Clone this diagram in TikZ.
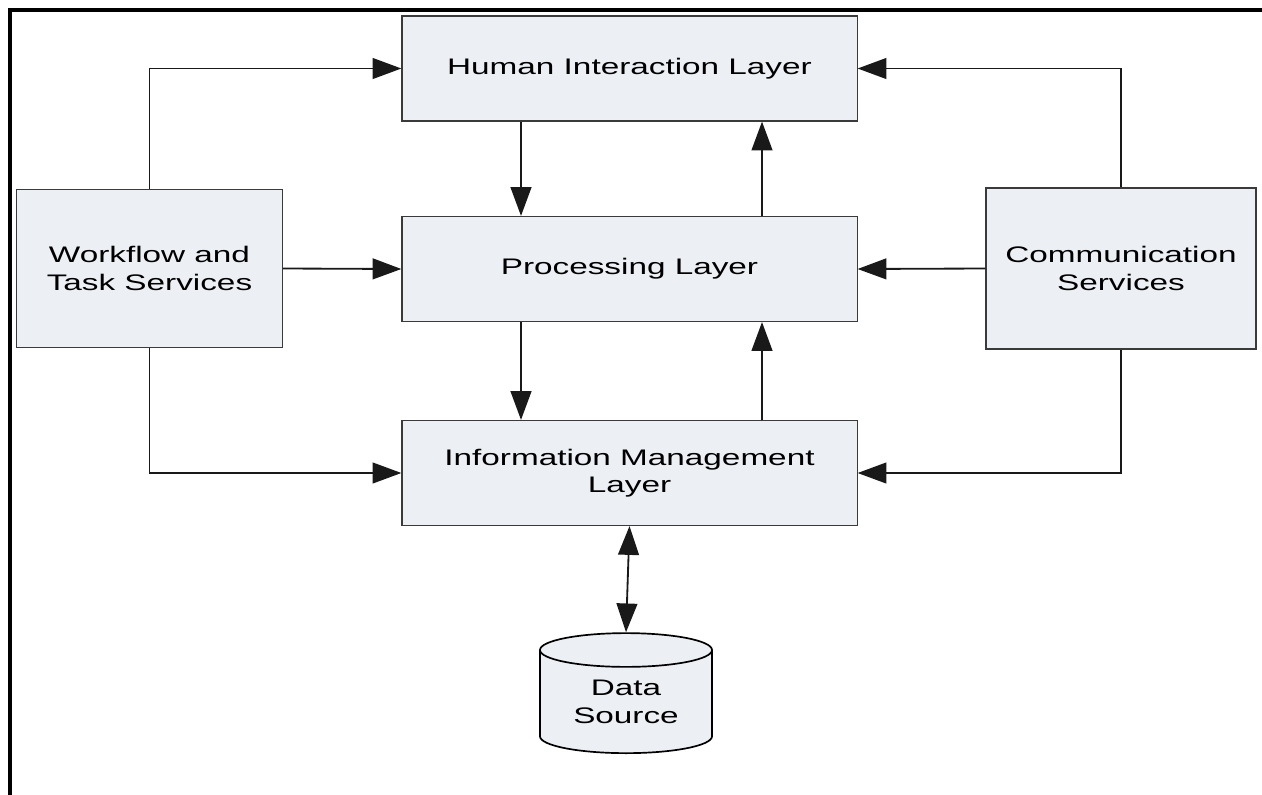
\documentclass[tikz,border=0pt]{standalone}
\usepackage{fontspec}
\setmainfont[FakeStretch=1.48]{Liberation Sans}
\usepackage{xcolor}
\usepackage{tikz}
\usetikzlibrary{
  shapes.geometric,
  arrows.meta,
  positioning
}
\definecolor{LayerFill}{RGB}{236, 239, 244}
\definecolor{EdgeGray}{RGB}{58, 58, 58}
\tikzset{
    layer/.style={rectangle, draw=EdgeGray, line width=0.8pt, fill=LayerFill,
        minimum width=11.375cm, minimum height=2.625cm, inner sep=0pt,
        align=center, font=\fontsize{16}{19.5}\selectfont},
    service/.style={layer, minimum width=6.65cm, minimum height=3.95cm},
    store/.style={cylinder, shape border rotate=90, aspect=0.32, draw=black,
        line width=1.2pt, fill=LayerFill, minimum width=4.3cm, minimum height=3cm,
        inner sep=0pt, align=center, font=\fontsize{16}{19.5}\selectfont},
    link/.style={line width=1.3pt, draw=black!90},
    >={Triangle[length=7.2mm, width=5.2mm]}
}

\begin{document}
\begin{tikzpicture}[x=0.025cm, y=-0.025cm]
    \useasboundingbox (0,0) rectangle (1262,795);

    % page frame, open at the bottom and right
    \draw[line width=0.1cm, line join=miter] (10,795) -- (10,10) -- (1262,10);

    % the three layers
    \node[layer] (hil) at (629.5,68.5) {Human Interaction Layer};
    \node[layer] (proc) at (629.5,269) {Processing Layer};
    \node[layer] (iml) at (629.5,473) {Information Management\\Layer};

    % services on either side
    \node[service] (wf) at (149.5,268.5) {Workflow and\\Task Services};
    \node[service, minimum width=6.75cm, minimum height=4.025cm] (comm) at (1121,268.5) {Communication\\Services};

    \node[store] (src) at (626,702) {Data\\Source};

    % columns for the up and down links
    \coordinate (down) at (521,0);
    \coordinate (up) at (762,0);

    % services feed every layer
    \draw[link, ->] (wf.north) |- (hil.west);
    \draw[link, ->] (wf.east) -- (proc.west);
    \draw[link, ->] (wf.south) |- (iml.west);
    \draw[link, ->] (comm.north) |- (hil.east);
    \draw[link, ->] (comm.west) -- (proc.east);
    \draw[link, ->] (comm.south) |- (iml.east);

    % between layers
    \draw[link, ->] (hil.south -| down) -- (proc.north -| down);
    \draw[link, ->] (proc.north -| up) -- (hil.south -| up);
    \draw[link, ->] (proc.south -| down) -- (iml.north -| down);
    \draw[link, ->] (iml.north -| up) -- (proc.south -| up);

    \draw[link, <->] (iml.south) -- (src.north);
\end{tikzpicture}
\end{document}
